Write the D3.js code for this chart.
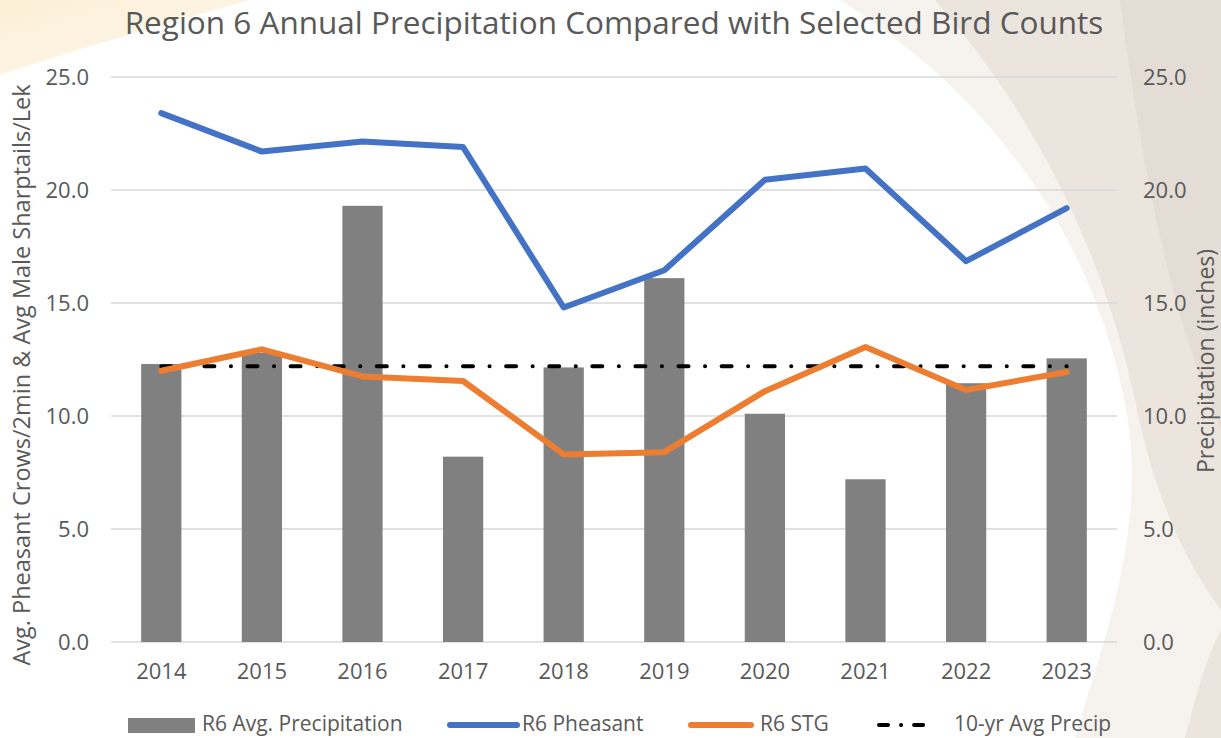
<!DOCTYPE html>
<html>
<head>
<meta charset="utf-8">
<script src="https://cdn.jsdelivr.net/npm/d3@7"></script>
<style>
  body { margin: 0; background: #fff; }
  text { font-family: "Open Sans", sans-serif; fill: #595959; }
</style>
</head>
<body>
<div id="chart"></div>
<script>
const years = ["2014", "2015", "2016", "2017", "2018", "2019", "2020", "2021", "2022", "2023"]
const precip = [12.3, 12.8, 19.3, 8.2, 12.15, 16.1, 10.1, 7.2, 11.45, 12.55]
const pheasant = [23.4, 21.7, 22.15, 21.9, 14.8, 16.45, 20.45, 20.95, 16.85, 19.2]
const stg = [12.0, 12.95, 11.75, 11.55, 8.3, 8.4, 11.1, 13.05, 11.15, 11.95]
const avgPrecip = 12.2
const ticks = [0, 5, 10, 15, 20, 25]

const W = 1221, H = 738
const margin = {top: 77, right: 104, bottom: 96, left: 111}
const width = W - margin.left - margin.right
const height = H - margin.top - margin.bottom

let svg = d3.select("#chart").append("svg")
  .attr("width", W)
  .attr("height", H)

// background decoration
let defs = svg.append("defs")
let g1 = defs.append("linearGradient").attr("id", "cream")
  .attr("x1", 0).attr("y1", 0).attr("x2", 1).attr("y2", 1)
g1.append("stop").attr("offset", 0).attr("stop-color", "#fcefd6")
g1.append("stop").attr("offset", 1).attr("stop-color", "#fdf8ee")

svg.append("path").attr("d", "M0,0 L250,0 C180,20 90,45 0,75 Z").attr("fill", "url(#cream)")
svg.append("path").attr("d", "M840,0 C1000,100 1100,250 1128,420 C1145,540 1100,650 1075,738 L1221,738 L1221,0 Z").attr("fill", "#f6f3ef")
svg.append("path").attr("d", "M935,0 C1040,120 1105,260 1135,400 C1155,500 1185,560 1221,610 L1221,0 Z").attr("fill", "#ebe5de")
svg.append("path").attr("d", "M1120,0 C1140,150 1165,300 1221,430 L1221,0 Z").attr("fill", "#e4ddd5")
svg.append("path").attr("d", "M1185,738 C1195,700 1205,660 1221,630 L1221,738 Z").attr("fill", "#ebe5de")

let g = svg.append("g")
  .attr("transform", "translate(" + margin.left + "," + margin.top + ")")

let x = d3.scaleBand()
  .domain(years)
  .range([0, width])
  .paddingInner(0.6)
  .paddingOuter(0.3)

let y = d3.scaleLinear().domain([0, 25]).range([height, 0])
let y2 = d3.scaleLinear().domain([0, 25]).range([height, 0])

let cx = d => x(d) + x.bandwidth() / 2

// gridlines
g.append("g").selectAll("line")
  .data(ticks)
  .enter().append("line")
  .attr("x1", 0).attr("x2", width)
  .attr("y1", d => y(d)).attr("y2", d => y(d))
  .attr("stroke", "#d9d9d9")
  .attr("stroke-width", 1.5)

// left axis
let yl = g.append("g").call(d3.axisLeft(y).tickValues(ticks).tickFormat(d3.format(".1f")).tickSize(0).tickPadding(22))
yl.select(".domain").remove()
yl.selectAll("text").style("font-size", "22px").attr("fill", "#595959")

// right axis
let yr = g.append("g").attr("transform", "translate(" + width + ",0)")
  .call(d3.axisRight(y2).tickValues(ticks).tickFormat(d3.format(".1f")).tickSize(0).tickPadding(26))
yr.select(".domain").remove()
yr.selectAll("text").style("font-size", "22px").attr("fill", "#595959")

// x axis
let xa = g.append("g").attr("transform", "translate(0," + height + ")")
  .call(d3.axisBottom(x).tickSize(0).tickPadding(21))
xa.select(".domain").remove()
xa.selectAll("text").style("font-size", "22px").attr("fill", "#595959")

// bars
g.append("g").selectAll("rect")
  .data(years)
  .enter().append("rect")
  .attr("x", d => x(d))
  .attr("y", (d, i) => y2(precip[i]))
  .attr("width", x.bandwidth())
  .attr("height", (d, i) => height - y2(precip[i]))
  .attr("fill", "#808080")

// 10 yr avg
g.append("line")
  .attr("x1", cx(years[0])).attr("x2", cx(years[years.length - 1]))
  .attr("y1", y2(avgPrecip)).attr("y2", y2(avgPrecip))
  .attr("stroke", "#000")
  .attr("stroke-width", 4)
  .attr("stroke-linecap", "round")
  .attr("stroke-dasharray", "10,16.5,0.1,16.5")

let line = d3.line().x(d => cx(d[0])).y(d => y(d[1]))

g.append("path")
  .datum(d3.zip(years, pheasant))
  .attr("d", line)
  .attr("fill", "none")
  .attr("stroke", "#4472c4")
  .attr("stroke-width", 6)
  .attr("stroke-linecap", "round")
  .attr("stroke-linejoin", "round")

g.append("path")
  .datum(d3.zip(years, stg))
  .attr("d", line)
  .attr("fill", "none")
  .attr("stroke", "#ed7d31")
  .attr("stroke-width", 6)
  .attr("stroke-linecap", "round")
  .attr("stroke-linejoin", "round")

// title
svg.append("text")
  .attr("x", 614).attr("y", 34)
  .attr("text-anchor", "middle")
  .style("font-size", "31.5px")
  .text("Region 6 Annual Precipitation Compared with Selected Bird Counts")

// axis titles
svg.append("text")
  .attr("transform", "translate(30,375) rotate(-90)")
  .attr("text-anchor", "middle")
  .style("font-size", "23.5px")
  .text("Avg. Pheasant Crows/2min & Avg Male Sharptails/Lek")

svg.append("text")
  .attr("transform", "translate(1214,361) rotate(-90)")
  .attr("text-anchor", "middle")
  .style("font-size", "23px")
  .text("Precipitation (inches)")

// legend
let leg = svg.append("g")
leg.append("rect").attr("x", 128).attr("y", 718).attr("width", 67).attr("height", 15).attr("fill", "#808080")
leg.append("text").attr("x", 202).attr("y", 731).style("font-size", "21px").text("R6 Avg. Precipitation")

leg.append("line").attr("x1", 450).attr("x2", 517).attr("y1", 725).attr("y2", 725)
  .attr("stroke", "#4472c4").attr("stroke-width", 6).attr("stroke-linecap", "round")
leg.append("text").attr("x", 522).attr("y", 731).style("font-size", "21px").text("R6 Pheasant")

leg.append("line").attr("x1", 691).attr("x2", 751).attr("y1", 725).attr("y2", 725)
  .attr("stroke", "#ed7d31").attr("stroke-width", 6).attr("stroke-linecap", "round")
leg.append("text").attr("x", 760).attr("y", 731).style("font-size", "21px").text("R6 STG")

leg.append("line").attr("x1", 879).attr("x2", 932).attr("y1", 725).attr("y2", 725)
  .attr("stroke", "#000").attr("stroke-width", 4).attr("stroke-linecap", "round")
  .attr("stroke-dasharray", "9,13,0.1,13")
leg.append("text").attr("x", 954).attr("y", 731).style("font-size", "21px").text("10-yr Avg Precip")
</script>
</body>
</html>
